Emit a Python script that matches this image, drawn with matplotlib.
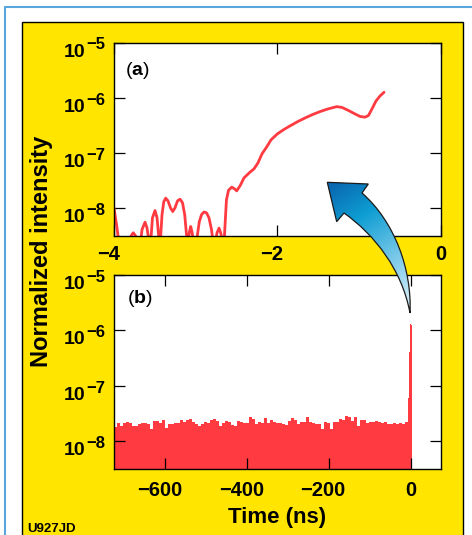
import numpy as np
import matplotlib
matplotlib.use("Agg")
import matplotlib.pyplot as plt
from matplotlib.patches import Rectangle, PathPatch
from matplotlib.path import Path
from matplotlib.colors import LinearSegmentedColormap

plt.rcParams['font.family'] = ['Liberation Sans', 'DejaVu Sans']
plt.rcParams['mathtext.fontset'] = 'custom'
plt.rcParams['mathtext.rm'] = 'Liberation Sans'
plt.rcParams['mathtext.bf'] = 'Liberation Sans:bold'

# panel (a): last 4 ns before the pulse, log10 of normalized intensity
a_time = [-4.0, -3.982, -3.963, -3.945, -3.90, -3.83, -3.79, -3.764, -3.737, -3.706,
          -3.68, -3.657, -3.62, -3.596, -3.571, -3.547, -3.529, -3.498, -3.473, -3.449,
          -3.431, -3.412, -3.391, -3.367, -3.339, -3.308, -3.281, -3.253, -3.222, -3.192,
          -3.161, -3.134, -3.112, -3.094, -3.076, -3.061, -3.045, -3.027, -3.008, -2.984,
          -2.956, -2.929, -2.898, -2.867, -2.837, -2.806, -2.788, -2.763, -2.739, -2.714,
          -2.69, -2.672, -2.653, -2.637, -2.623, -2.598, -2.559, -2.524, -2.498, -2.457,
          -2.408, -2.335, -2.286, -2.237, -2.188, -2.13, -2.078, -2.0, -1.918, -1.845,
          -1.747, -1.641, -1.564, -1.478, -1.38, -1.273, -1.208, -1.131, -1.049, -0.988,
          -0.927, -0.884, -0.841, -0.792, -0.743, -0.694]
a_log10 = [-7.995, -8.176, -8.357, -8.57, -8.75, -8.67, -8.50, -8.447, -8.50, -8.68,
           -8.68, -8.39, -8.254, -8.357, -8.61, -8.54, -8.176, -8.043, -8.176, -8.57,
           -8.57, -8.12, -7.886, -7.819, -7.868, -7.995, -8.062, -7.995, -7.868, -7.837,
           -7.904, -8.121, -8.484, -8.61, -8.43, -8.333, -8.43, -8.61, -8.665, -8.54,
           -8.25, -8.12, -8.07, -8.085, -8.176, -8.39, -8.61, -8.65, -8.45, -8.362,
           -8.466, -8.647, -8.647, -8.212, -7.85, -7.677, -7.62, -7.65, -7.687, -7.596,
           -7.451, -7.348, -7.288, -7.179, -7.016, -6.889, -6.763, -6.654, -6.572, -6.509,
           -6.428, -6.351, -6.3, -6.25, -6.201, -6.159, -6.174, -6.228, -6.292, -6.337,
           -6.351, -6.319, -6.2, -6.056, -5.966, -5.899]

# panel (b): background level (units of 1e-8) in 98 equal bins from -725 to -7 ns
b_start, b_stop = -725.0, -7.0
b_noise = [1.81, 2.14, 1.86, 2.14, 2.2, 2.14, 1.9, 1.86, 2.08, 2.14,
           2.14, 2.08, 1.67, 2.33, 2.33, 2.14, 2.39, 1.72, 2.03, 2.08,
           2.14, 2.14, 2.39, 2.26, 2.39, 2.53, 2.26, 2.08, 1.86, 2.03,
           2.26, 2.14, 2.46, 2.53, 2.33, 1.9, 2.14, 2.33, 2.26, 1.96,
           1.86, 2.33, 2.26, 2.14, 2.14, 2.74, 2.53, 2.08, 2.2, 2.14,
           2.6, 2.14,
           2.39, 2.2, 2.14, 2.14, 2.08, 1.96, 2.33, 2.6, 2.46, 2.08,
           2.2, 2.26, 2.74, 2.26, 2.14, 2.03, 2.08, 1.67, 2.2, 2.14,
           1.67, 2.2, 2.2, 2.53, 2.39, 2.82, 2.74, 2.33, 2.74, 1.86,
           2.46, 2.39, 2.14, 2.2, 2.26, 2.33, 2.2, 2.14, 2.2, 2.08,
           2.03, 2.14, 2.08, 2.14, 2.08, 2.26]
# the pulse itself
spike_t = [-7.0, -5.0, -3.0, -1.0, 1.0, 2.5]
spike_v = [6e-8, 4e-7, 1.2e-6, 1.3e-6, 1.25e-6]

decades = [1e-5, 1e-6, 1e-7, 1e-8]
exponents = ["\u22125", "\u22126", "\u22127", "\u22128"]
a_xticks = [-4, -2, 0]
b_xticks = [-600, -400, -200, 0]

W, H = 472, 535
red = '#ff3a40'
yellow = '#ffe500'

fig = plt.figure(figsize=(W / 100, H / 100), dpi=100)
fig.patch.set_facecolor('white')

# background frame
bg = fig.add_axes([0, 0, 1, 1], zorder=0)
bg.set_xlim(0, W)
bg.set_ylim(H, 0)
bg.axis('off')
bg.plot([5, 5, W], [H, 7, 7], color='#5aa5dc', lw=1.5)
bg.add_patch(Rectangle((22, 22), 441, 530, facecolor=yellow, edgecolor='black', lw=1.0))


def px_axes(left, top, right, bottom):
    return fig.add_axes([left / W, 1 - bottom / H, (right - left) / W, (bottom - top) / H], zorder=1)


def style(ax, xticks, xlab_off):
    ax.set_yscale('log')
    ax.set_ylim(10 ** -8.5, 1e-5)
    ax.set_yticks(decades)
    ax.yaxis.set_minor_locator(matplotlib.ticker.NullLocator())
    ax.set_xticks(xticks)
    ax.set_yticklabels([])
    ax.set_xticklabels([])
    ax.tick_params(which='both', direction='in', length=7.7, width=0.9,
                   top=True, right=True, left=True, bottom=True)
    for s in ax.spines.values():
        s.set_linewidth(1.0)
    ax.set_facecolor('white')
    ytr = ax.get_yaxis_transform()
    for v, e in zip(decades, exponents):
        ax.annotate("10", xy=(0, v), xycoords=ytr, xytext=(-20.9, -10.1),
                    textcoords='offset points', ha='right', va='baseline',
                    fontsize=14, fontweight='bold', annotation_clip=False)
        ax.annotate(e, xy=(0, v), xycoords=ytr, xytext=(-6.5, -4.8),
                    textcoords='offset points', ha='right', va='baseline',
                    fontsize=12, fontweight='bold', annotation_clip=False)
    xtr = ax.get_xaxis_transform()
    for t in xticks:
        lab = "0" if t == 0 else "\u2212" + str(abs(t))
        dx = 0 if t == 0 else -4.2
        ax.annotate(lab, xy=(t, 0), xycoords=xtr, xytext=(dx, xlab_off),
                    textcoords='offset points', ha='center', va='baseline',
                    fontsize=14.5, fontweight='bold', annotation_clip=False)


# panel (a)
ax_a = px_axes(114, 42.7, 440.7, 235.7)
ax_a.plot(a_time, [10 ** v for v in a_log10], color=red, lw=2.0, solid_capstyle='round')
ax_a.set_xlim(-4, 0)
style(ax_a, a_xticks, -17.5)
ax_a.text(0.034, 0.835, r"($\mathbf{a}$)", transform=ax_a.transAxes, fontsize=14, va='baseline')

# panel (b)
ax_b = px_axes(114, 275, 440.7, 469)
edges = list(np.linspace(b_start, b_stop, len(b_noise) + 1)) + spike_t[1:]
vals = [v * 1e-8 for v in b_noise] + spike_v
ax_b.fill_between(edges, vals + [vals[-1]], 1e-10, step='post', color=red, lw=0)
ax_b.set_xlim(-725, 73)
style(ax_b, b_xticks, -19.4)
ax_b.text(0.04, 0.856, r"($\mathbf{b}$)", transform=ax_b.transAxes, fontsize=14, va='baseline')

fig.text(42 / W, 1 - 251.7 / H, "Normalized intensity", rotation=90, ha='center', va='center',
         fontsize=17, fontweight='bold')
fig.text(277 / W, 1 - 523 / H, "Time (ns)", ha='center', va='baseline', fontsize=16, fontweight='bold')
fig.text(27 / W, 1 - 531.5 / H, "U927JD", ha='left', va='baseline', fontsize=9.5, fontweight='bold')

# curved gradient arrow linking the pulse in (b) to the zoom in (a)
ov = fig.add_axes([0, 0, 1, 1], zorder=5)
ov.set_facecolor('none')
ov.axis('off')
verts = [(410, 313), (412, 270), (395, 222), (362, 193),
         (368.3, 184), (327.3, 182.3), (336.7, 221.7), (344, 213),
         (375, 235), (402, 270), (410, 313), (410, 313)]
codes = [Path.MOVETO, Path.CURVE4, Path.CURVE4, Path.CURVE4,
         Path.LINETO, Path.LINETO, Path.LINETO, Path.LINETO,
         Path.CURVE4, Path.CURVE4, Path.CURVE4, Path.CLOSEPOLY]
arrow = PathPatch(Path(verts, codes), facecolor='none', edgecolor='#1a1a1a', lw=0.9, zorder=3)
ov.add_patch(arrow)
x0, x1, y0, y1 = 320, 416, 176, 318
gx, gy = np.meshgrid(np.linspace(x0, x1, 200), np.linspace(y0, y1, 300))
dx, dy = 327.0 - 410.0, 182.0 - 313.0
tt = np.clip(((gx - 410) * dx + (gy - 313) * dy) / (dx * dx + dy * dy), 0, 1)
cmap = LinearSegmentedColormap.from_list('arr', [(0, '#e4f3fb'), (0.45, '#5cbde3'),
                                                 (0.7, '#0d9dd2'), (1.0, '#0a62ad')])
im = ov.imshow(cmap(tt), extent=(x0, x1, y1, y0), origin='upper', aspect='auto', zorder=2)
im.set_clip_path(arrow)
ov.set_xlim(0, W)
ov.set_ylim(H, 0)

fig.savefig('out.png', dpi=100)
